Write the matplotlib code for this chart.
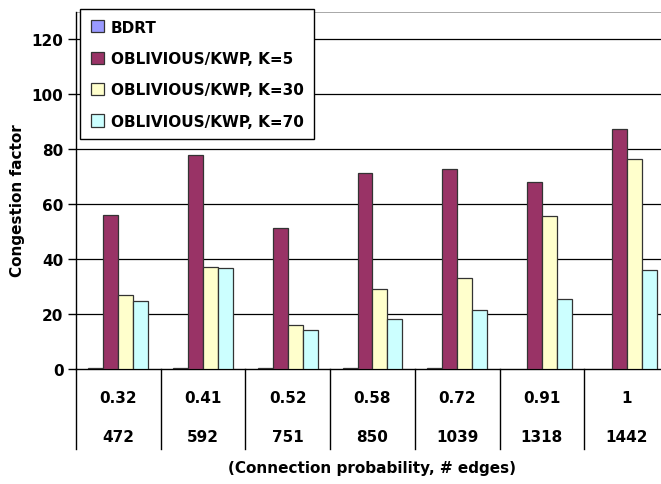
import matplotlib.pyplot as plt
import numpy as np

plt.rcParams['font.family'] = ['DejaVu Sans']
plt.rcParams['font.weight'] = 'bold'

# data
probs = ['0.32', '0.41', '0.52', '0.58', '0.72', '0.91', '1']
edges = ['472', '592', '751', '850', '1039', '1318', '1442']
bdrt = [0.4, 0.4, 0.4, 0.4, 0.4, np.nan, np.nan]
k5 = [56, 78, 51.5, 71.5, 73, 68, 87.5]
k30 = [27, 37.2, 16.1, 29, 33, 55.8, 76.4]
k70 = [24.7, 36.8, 14.2, 18.1, 21.6, 25.5, 36.1]

series = [bdrt, k5, k30, k70]
names = ['BDRT', 'OBLIVIOUS/KWP, K=5', 'OBLIVIOUS/KWP, K=30', 'OBLIVIOUS/KWP, K=70']
colors = ['#9999FF', '#993366', '#FFFFCC', '#CCFFFF']

W, H = 661, 485
fig = plt.figure(figsize=(W / 100, H / 100), dpi=100)
ax = fig.add_axes([76 / W, (H - 370) / H, (669 - 76) / W, (370 - 13) / H])

x = np.arange(len(probs)) + 0.5
bw = 0.177
for i, (vals, nm, c) in enumerate(zip(series, names, colors)):
    ax.bar(x + (i - 1.5) * bw, vals, bw, color=c, edgecolor='#333333',
           linewidth=0.9, label=nm, zorder=3)

ax.set_xlim(0, len(probs))
ax.set_ylim(0, 130)
ax.set_yticks(range(0, 121, 20))
ax.tick_params(axis='y', length=6, width=1, labelsize=11, pad=3)
ax.set_xticks([])
for t in range(0, 121, 20):
    if t > 0:
        ax.axhline(t, color='black', linewidth=0.9, zorder=1)
ax.axhline(130, color='#999999', linewidth=1.2, zorder=1)
for s in ['top', 'right']:
    ax.spines[s].set_visible(False)
ax.spines['left'].set_linewidth(1)
ax.spines['bottom'].set_linewidth(1)

# category table below the axis
trans = ax.get_xaxis_transform()
for c in range(len(probs) + 1):
    ax.plot([c, c], [0, -0.224], color='black', linewidth=1,
            transform=trans, clip_on=False)
for xi, p, e in zip(x, probs, edges):
    ax.text(xi, -0.081, p, transform=trans, ha='center', va='center', fontsize=11)
    ax.text(xi, -0.190, e, transform=trans, ha='center', va='center', fontsize=11)
ax.text(3.5, -0.275, '(Connection probability, # edges)', transform=trans,
        ha='center', va='center', fontsize=11)

fig.text(18 / W, 1 - 201 / H, 'Congestion factor', rotation=90,
         ha='center', va='center', fontsize=11)

leg = fig.legend(loc='upper left', bbox_to_anchor=(80 / W, 1 - 10 / H),
                 fontsize=11, frameon=True, fancybox=False, edgecolor='black',
                 framealpha=1, handlelength=0.85, handleheight=0.85,
                 handletextpad=0.45, labelspacing=1.07, borderpad=0.7,
                 borderaxespad=0)
leg.get_frame().set_linewidth(1)

fig.savefig('out.png', dpi=100)
